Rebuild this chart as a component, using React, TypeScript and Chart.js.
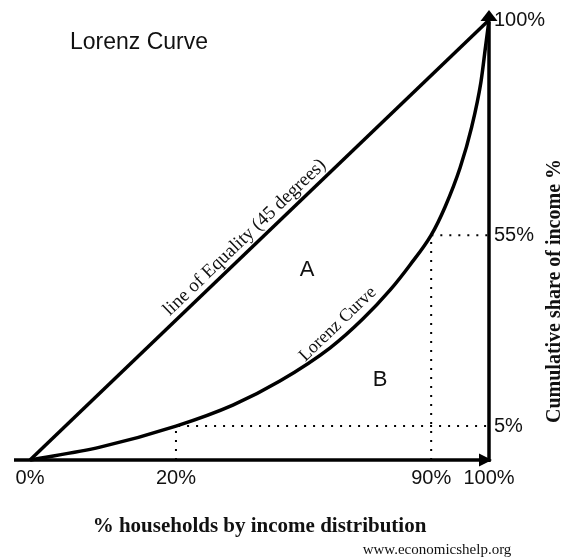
import React, { useEffect, useRef } from 'react';
import { Chart, registerables, LinearScale } from 'chart.js';

// ---------------- data ----------------
const X_TICKS = [0, 20, 90, 100];
const Y_TICKS = [5, 55, 100];

const EQUALITY_X = [0, 100];
const EQUALITY_Y = [0, 100];

const LORENZ_X = [0, 9.6, 20, 35.6, 48.5, 62.3, 71.3, 78.7, 84.2, 90, 92.4, 95.0, 97.0, 98.6, 99.4, 100];
const LORENZ_Y = [0, 1.9, 5, 10.5, 16.8, 25.5, 33.1, 40.6, 47.2, 55, 60.9, 69.1, 77.6, 87.0, 94.4, 100];

const GUIDE_LOW_X = [20, 20, 100];
const GUIDE_LOW_Y = [0, 5, 5];
const GUIDE_HIGH_X = [90, 90, 100];
const GUIDE_HIGH_Y = [0, 55, 55];

const AREA_LABELS = ['A', 'B'];
const AREA_LABEL_X = [56, 76];
const AREA_LABEL_Y = [46, 17];

// ---------------- schematic (non-proportional) axis layout ----------------
const X_KNOT_VALUES = [0, 20, 90, 100];
const X_KNOT_FRACTIONS = [0, 0.318, 0.874, 1];
const Y_KNOT_VALUES = [0, 5, 55, 100];
const Y_KNOT_FRACTIONS = [0, 0.077, 0.511, 1];

function interp(v: number, a: number[], b: number[]): number {
  const n = a.length - 1;
  if (v <= a[0]) return b[0] + ((v - a[0]) * (b[1] - b[0])) / (a[1] - a[0]);
  for (let i = 1; i <= n; i++) {
    if (v <= a[i]) {
      const t = (v - a[i - 1]) / (a[i] - a[i - 1]);
      return b[i - 1] + t * (b[i] - b[i - 1]);
    }
  }
  return b[n] + ((v - a[n]) * (b[n] - b[n - 1])) / (a[n] - a[n - 1]);
}

class PiecewiseScale extends LinearScale {
  static id = 'piecewise';
  static defaults = LinearScale.defaults;
  knots(): [number[], number[]] {
    return (this as any).axis === 'x'
      ? [X_KNOT_VALUES, X_KNOT_FRACTIONS]
      : [Y_KNOT_VALUES, Y_KNOT_FRACTIONS];
  }
  getPixelForValue(value: any) {
    if (value === null || value === undefined || isNaN(value)) return NaN;
    const [v, f] = this.knots();
    return (this as any).getPixelForDecimal(interp(+value, v, f));
  }
  getValueForPixel(pixel: number) {
    const [v, f] = this.knots();
    return interp((this as any).getDecimalForPixel(pixel), f, v);
  }
}

Chart.register(...registerables, PiecewiseScale as any);

const SANS = '"Liberation Sans", Arial, sans-serif';
const SERIF = '"Liberation Serif", "Times New Roman", serif';
const INK = '#111';

const pts = (xs: number[], ys: number[]) => xs.map((x, i) => ({ x, y: ys[i] }));

const decorations = {
  id: 'lorenzDecorations',
  beforeDatasetsDraw(chart: any) {
    const { ctx, scales } = chart;
    const { x, y } = scales;
    const ox = x.getPixelForValue(0);
    const oy = y.getPixelForValue(0);
    const ex = x.getPixelForValue(100);
    const ey = y.getPixelForValue(100);
    ctx.save();
    ctx.strokeStyle = '#000';
    ctx.fillStyle = '#000';
    ctx.lineWidth = 3.5;
    // x axis with arrow
    ctx.beginPath();
    ctx.moveTo(ox - 16, oy);
    ctx.lineTo(ex - 8, oy);
    ctx.stroke();
    ctx.beginPath();
    ctx.moveTo(ex + 3, oy);
    ctx.lineTo(ex - 10, oy - 6.5);
    ctx.lineTo(ex - 10, oy + 6.5);
    ctx.closePath();
    ctx.fill();
    // y axis with arrow
    ctx.beginPath();
    ctx.moveTo(ex, oy + 2);
    ctx.lineTo(ex, ey + 2);
    ctx.stroke();
    ctx.beginPath();
    ctx.moveTo(ex, ey - 10);
    ctx.lineTo(ex - 8.5, ey + 1);
    ctx.lineTo(ex + 8.5, ey + 1);
    ctx.closePath();
    ctx.fill();
    ctx.restore();
  },
  afterDraw(chart: any) {
    const { ctx, scales, chartArea } = chart;
    const { x, y } = scales;
    const ox = x.getPixelForValue(0);
    const oy = y.getPixelForValue(0);
    const ex = x.getPixelForValue(100);
    const ey = y.getPixelForValue(100);
    ctx.save();
    ctx.fillStyle = INK;

    // chart title
    ctx.font = `23px ${SANS}`;
    ctx.textAlign = 'left';
    ctx.textBaseline = 'middle';
    ctx.fillText('Lorenz Curve', 70, 43);

    // area labels
    ctx.font = `22px ${SANS}`;
    ctx.textAlign = 'center';
    AREA_LABELS.forEach((t, i) => {
      ctx.fillText(t, x.getPixelForValue(AREA_LABEL_X[i]), y.getPixelForValue(AREA_LABEL_Y[i]));
    });

    // line of equality label
    const t = 0.486;
    const lx = ox + (ex - ox) * t;
    const ly = oy + (ey - oy) * t;
    const ang = Math.atan2(ey - oy, ex - ox);
    ctx.save();
    ctx.translate(lx, ly);
    ctx.rotate(ang);
    ctx.font = `19px ${SERIF}`;
    ctx.textAlign = 'center';
    ctx.textBaseline = 'alphabetic';
    ctx.fillText('line of Equality (45 degrees)', 0, -7);
    ctx.restore();

    // Lorenz curve label, centred on the segment between two curve points
    const k = 5;
    const pa = { x: x.getPixelForValue(LORENZ_X[k]), y: y.getPixelForValue(LORENZ_Y[k]) };
    const pb = { x: x.getPixelForValue(LORENZ_X[k + 1]), y: y.getPixelForValue(LORENZ_Y[k + 1]) };
    const a2 = Math.atan2(pb.y - pa.y, pb.x - pa.x) - 0.04;
    ctx.save();
    ctx.translate((pa.x + pb.x) / 2, (pa.y + pb.y) / 2);
    ctx.rotate(a2);
    ctx.font = `18px ${SERIF}`;
    ctx.textAlign = 'center';
    ctx.textBaseline = 'alphabetic';
    ctx.fillText('Lorenz Curve', 0, -8);
    ctx.restore();

    // y-axis title (reads bottom to top)
    ctx.save();
    ctx.translate(chartArea.right + 66, 291);
    ctx.rotate(-Math.PI / 2);
    ctx.font = `bold 20px ${SERIF}`;
    ctx.textAlign = 'center';
    ctx.textBaseline = 'middle';
    ctx.fillText('Cumulative share of income %', 0, 0);
    ctx.restore();

    // source
    ctx.font = `15px ${SERIF}`;
    ctx.textAlign = 'center';
    ctx.textBaseline = 'middle';
    ctx.fillText('www.economicshelp.org', 437, 550);
    ctx.restore();
  },
};

export default function App() {
  const ref = useRef<HTMLCanvasElement | null>(null);
  useEffect(() => {
    if (!ref.current) return;
    const chart = new Chart(ref.current, {
      type: 'scatter',
      data: {
        datasets: [
          {
            label: 'Line of equality',
            data: pts(EQUALITY_X, EQUALITY_Y),
            showLine: true,
            borderColor: '#000',
            borderWidth: 3.5,
            pointRadius: 0,
            clip: false,
          },
          {
            label: 'Lorenz curve',
            data: pts(LORENZ_X, LORENZ_Y),
            showLine: true,
            borderColor: '#000',
            borderWidth: 3.5,
            pointRadius: 0,
            cubicInterpolationMode: 'monotone',
            clip: false,
          },
          {
            label: '20% / 5%',
            data: pts(GUIDE_LOW_X, GUIDE_LOW_Y),
            showLine: true,
            borderColor: '#000',
            borderWidth: 2,
            borderDash: [2, 7],
            pointRadius: 0,
            clip: false,
          },
          {
            label: '90% / 55%',
            data: pts(GUIDE_HIGH_X, GUIDE_HIGH_Y),
            showLine: true,
            borderColor: '#000',
            borderWidth: 2,
            borderDash: [2, 7],
            pointRadius: 0,
            clip: false,
          },
        ],
      },
      options: {
        animation: false,
        responsive: false,
        devicePixelRatio: 1,
        layout: { padding: { left: 30, top: 20, right: 0, bottom: 0 } },
        plugins: { legend: { display: false }, tooltip: { enabled: false } },
        scales: {
          x: {
            type: 'piecewise' as any,
            position: 'bottom',
            min: 0,
            max: 100,
            grid: { display: false, drawTicks: false },
            border: { display: false },
            ticks: {
              padding: 6,
              autoSkip: false,
              maxRotation: 0,
              color: INK,
              font: { family: SANS, size: 20 },
              callback: (v: any) => `${v}%`,
            },
            afterBuildTicks: (s: any) => {
              s.ticks = X_TICKS.map((value) => ({ value }));
            },
            afterFit: (s: any) => {
              s.height = 99;
            },
            title: {
              display: true,
              text: '% households by income distribution',
              color: INK,
              font: { family: SERIF, size: 21, weight: 'bold' },
              padding: { top: 0, bottom: 20 },
            },
          } as any,
          y: {
            type: 'piecewise' as any,
            position: 'right',
            min: 0,
            max: 100,
            grid: { display: false, drawTicks: false },
            border: { display: false },
            ticks: {
              padding: 5,
              autoSkip: false,
              color: INK,
              font: { family: SANS, size: 20 },
              callback: (v: any) => `${v}%`,
            },
            afterBuildTicks: (s: any) => {
              s.ticks = Y_TICKS.map((value) => ({ value }));
            },
            afterFit: (s: any) => {
              s.width = 72;
            },
          } as any,
        },
      } as any,
      plugins: [decorations],
    });
    return () => chart.destroy();
  }, []);
  return (
    <div style={{ position: 'absolute', left: 0, top: 0, width: 561, height: 559 }}>
      <canvas ref={ref} width={561} height={559} style={{ display: 'block', width: 561, height: 559 }} />
    </div>
  );
}
